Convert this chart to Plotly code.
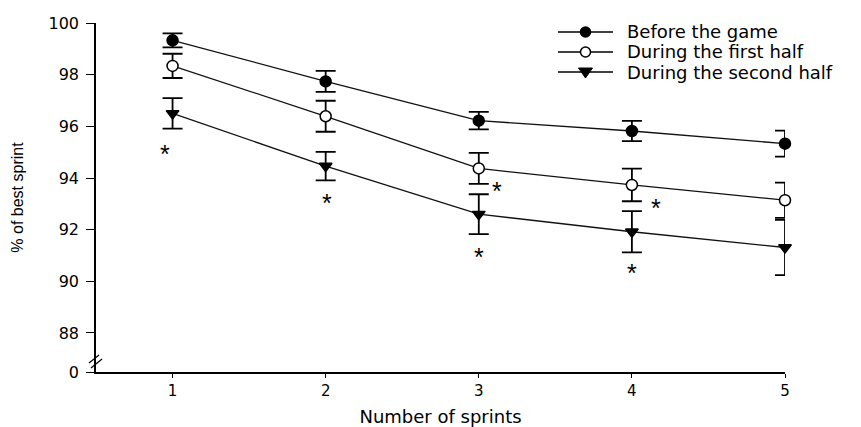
import plotly.graph_objects as go

sprints = [1, 2, 3, 4, 5]
series_names = ["Before the game", "During the first half", "During the second half"]
before = [99.33, 97.74, 96.22, 95.82, 95.33]
before_err = [0.27, 0.41, 0.34, 0.39, 0.50]
first_half = [98.34, 96.39, 94.37, 93.73, 93.14]
first_err = [0.47, 0.60, 0.60, 0.63, 0.68]
second_half = [96.50, 94.46, 92.60, 91.92, 91.31]
second_err = [0.59, 0.55, 0.77, 0.80, 1.07]

star_x = [0.95, 2.01, 3.0, 3.12, 4.16, 4.0, 5.09, 5.01]
star_y = [95.10, 93.17, 91.08, 93.65, 93.01, 90.49, 92.68, 89.50]

y_tick_vals = [86.49, 88, 90, 92, 94, 96, 98, 100]
y_tick_text = ["0", "88", "90", "92", "94", "96", "98", "100"]

FONT = "DejaVu Sans, Liberation Sans, Arial, sans-serif"
ARIAL = "Liberation Sans, Arial, sans-serif"
BLACK = "#000000"

L, R, T, B = 96, 785, 23, 372
W, H = 861, 427
def px(xp):
    return (xp - L) / (R - L)
def py(yp):
    return (B - yp) / (B - T)

fig = go.Figure()

styles = [("circle", BLACK), ("circle", "white"), ("triangle-down", BLACK)]
values = [before, first_half, second_half]
errors = [before_err, first_err, second_err]

for name, y, err, (symbol, fill) in zip(series_names, values, errors, styles):
    fig.add_trace(go.Scatter(
        x=sprints, y=y, name=name, mode="lines+markers", showlegend=False,
        cliponaxis=False,
        line=dict(color="#111111", width=1.3),
        marker=dict(symbol=symbol, size=11, color=fill,
                    line=dict(color=BLACK, width=1.5)),
        error_y=dict(type="data", array=err, visible=True,
                     color=BLACK, thickness=1.8, width=10),
    ))

for sx, sy in zip(star_x, star_y):
    fig.add_annotation(x=sx, y=sy, text="*", showarrow=False,
                       font=dict(size=25, color=BLACK, family=ARIAL),
                       xanchor="center", yanchor="middle", yshift=-4)

# axis break marks
for (x0, y0, x1, y1) in [(89, 363, 99, 355), (91, 368, 102, 359)]:
    fig.add_shape(type="line", xref="paper", yref="paper",
                  x0=px(x0), y0=py(y0), x1=px(x1), y1=py(y1),
                  line=dict(color=BLACK, width=1.2))

# legend (drawn manually to match key length and spacing)
leg_rows = [32, 52, 72]
lx0, lx1, lmx, ltx = 558, 613, 585.5, 625
for name, ry, (symbol, fill) in zip(series_names, leg_rows, styles):
    fig.add_shape(type="line", xref="paper", yref="paper",
                  x0=px(lx0), x1=px(lx1), y0=py(ry), y1=py(ry),
                  line=dict(color=BLACK, width=1.3))
    if symbol == "circle":
        fig.add_shape(type="circle", xref="paper", yref="paper",
                      x0=px(lmx - 5), x1=px(lmx + 5), y0=py(ry + 5), y1=py(ry - 5),
                      fillcolor=fill, line=dict(color=BLACK, width=1.5))
    else:
        path = "M {:.5f},{:.5f} L {:.5f},{:.5f} L {:.5f},{:.5f} Z".format(
            px(lmx - 7), py(ry - 4), px(lmx + 7), py(ry - 4), px(lmx), py(ry + 6))
        fig.add_shape(type="path", xref="paper", yref="paper", path=path,
                      fillcolor=fill, line=dict(color=BLACK, width=1))
    fig.add_annotation(xref="paper", yref="paper", x=px(ltx), y=py(ry),
                       text=name, showarrow=False, xanchor="left", yanchor="middle",
                       font=dict(size=18, family=FONT, color=BLACK))

fig.update_layout(
    width=W, height=H,
    margin=dict(l=L, r=W - R, t=T, b=H - B, autoexpand=False),
    paper_bgcolor="white", plot_bgcolor="white",
    font=dict(family=FONT, color=BLACK, size=14),
    showlegend=False,
    xaxis=dict(range=[0.5, 5], tickvals=sprints, ticktext=[str(s) for s in sprints],
               showline=True, linecolor=BLACK, linewidth=1.5, automargin=False,
               ticks="outside", ticklen=4, tickcolor=BLACK, tickwidth=1.2,
               showgrid=False, zeroline=False,
               tickfont=dict(size=15),
               title=dict(text="Number of sprints", font=dict(size=18), standoff=20)),
    yaxis=dict(range=[86.49, 100], tickvals=y_tick_vals, ticktext=y_tick_text,
               showline=True, linecolor=BLACK, linewidth=1.5, automargin=False,
               ticks="outside", ticklen=8, tickcolor=BLACK, tickwidth=1.2,
               showgrid=False, zeroline=False, ticklabelstandoff=4,
               tickfont=dict(size=16),
               title=dict(text="% of best sprint",
                          font=dict(size=16, family=ARIAL),
                          standoff=21)),
)

fig.write_html("out.html", config={"displayModeBar": False},
               post_script="document.body.style.margin='0';")
